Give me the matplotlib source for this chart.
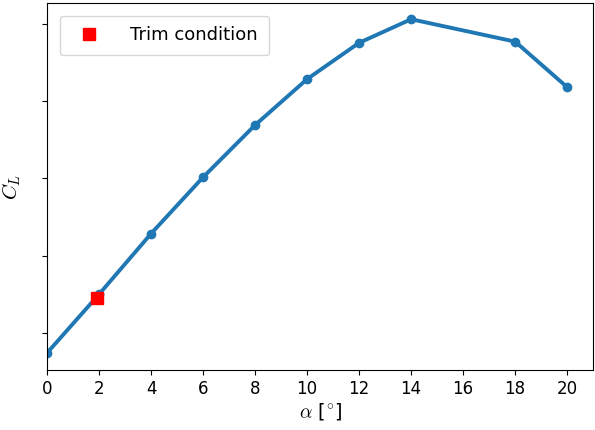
import matplotlib
matplotlib.use("Agg")
import matplotlib.pyplot as plt
import numpy as np

# lift curve (y ticks unlabeled, so units are arbitrary)
alpha = [0, 2, 4, 6, 8, 10, 12, 14, 18, 20]
cl = [0.148, 0.300, 0.457, 0.603, 0.738, 0.857, 0.951, 1.012, 0.954, 0.836]
trim_alpha = [1.91]
trim_cl = [0.291]
ytick_vals = [0.2, 0.4, 0.6, 0.8, 1.0]
xtick_vals = [0, 2, 4, 6, 8, 10, 12, 14, 16, 18, 20]

plt.rcParams['mathtext.fontset'] = 'cm'

fig = plt.figure(figsize=(5.95, 4.3), dpi=100)
ax = fig.add_axes([0.079, 0.1395, 0.918, 0.8535])

ax.plot(alpha, cl, color='#1f77b4', lw=2.8, marker='o', ms=6)
ax.plot(trim_alpha, trim_cl, 's', color='red', ms=8, label='Trim condition', zorder=5)

ax.set_xlim(0, 21)
ax.set_ylim(0.104, 1.054)
ax.set_xticks(xtick_vals)
ax.set_yticks(ytick_vals)
ax.set_yticklabels([])
ax.tick_params(labelsize=12)

ax.set_xlabel(r'$\alpha$ [$^{\circ}$]', fontsize=14, labelpad=2)
ax.set_ylabel(r'$C_L$', fontsize=15, labelpad=10)

ax.legend(loc='upper left', fontsize=13, handletextpad=1.3, borderpad=0.6,
          borderaxespad=0.7)

fig.savefig('out.png', dpi=100)
